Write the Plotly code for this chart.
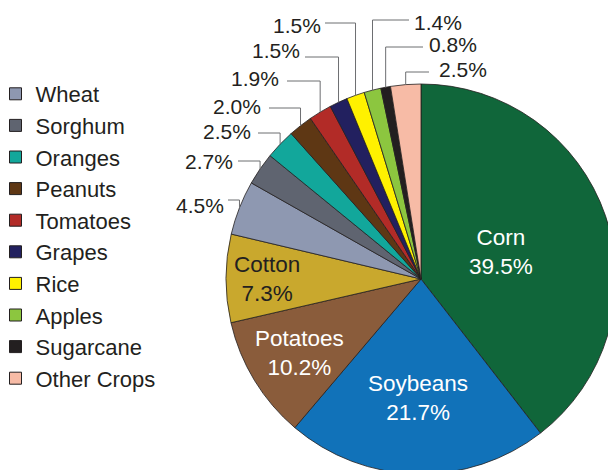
import math
import plotly.graph_objects as go

# ---- data ----
crops = ["Corn", "Soybeans", "Potatoes", "Cotton", "Wheat", "Sorghum", "Oranges",
         "Peanuts", "Tomatoes", "Grapes", "Rice", "Apples", "Sugarcane", "Other Crops"]
shares = [39.5, 21.7, 10.2, 7.3, 4.5, 2.7, 2.5, 2.0, 1.9, 1.5, 1.5, 1.4, 0.8, 2.5]
colors = ["#10663a", "#1172b9", "#8a5c3b", "#c9a82d", "#8e98b1", "#5f6470", "#12a79b",
          "#5e3714", "#b22b27", "#22205f", "#fff100", "#8cc63f", "#231f20", "#f7bba6"]
legend_crops = ["Wheat", "Sorghum", "Oranges", "Peanuts", "Tomatoes", "Grapes", "Rice",
                "Apples", "Sugarcane", "Other Crops"]

# ---- layout helpers (screen pixels) ----
# The figure is a little larger than the 608x470 window so that the pie is
# cropped at the right and bottom edges, as in the reference.
W, H = 616, 476
cx, cy, R = 421, 279, 195
FONT = "Liberation Sans, Arial, sans-serif"
INK = "#231f20"


def px(x):
    return x / W


def py(y):
    return 1 - y / H


total = sum(shares)
mid_angle = {}
acc = 0.0
for c, s in zip(crops, shares):
    mid_angle[c] = (acc + s / 2) / total * 2 * math.pi
    acc += s

fig = go.Figure()
fig.add_trace(go.Pie(
    labels=crops, values=shares, sort=False, direction="clockwise", rotation=0,
    marker=dict(colors=colors, line=dict(color=INK, width=0.8)),
    textinfo="none", hoverinfo="label+percent", showlegend=False,
    domain=dict(x=[px(cx - R), min(1.0, px(cx + R))], y=[max(0.0, py(cy + R)), py(cy - R)]),
))

# legend entries (dummy traces)
for c in legend_crops:
    fig.add_trace(go.Scatter(
        x=[None], y=[None], mode="markers", name=c,
        marker=dict(symbol="square", size=12, color=colors[crops.index(c)],
                    line=dict(color=INK, width=1)),
    ))

annotations = []
shapes = []

# inside labels
inside = {"Corn": (0.435, "white"), "Soybeans": (0.61, "white"),
          "Potatoes": (0.73, "white"), "Cotton": (0.79, INK)}
for c, (frac, col) in inside.items():
    a = mid_angle[c]
    x = cx + frac * R * math.sin(a)
    y = cy - frac * R * math.cos(a)
    annotations.append(dict(
        x=px(x), y=py(y), xref="paper", yref="paper", showarrow=False,
        xanchor="center", yanchor="middle",
        text=f"{c}<br>{shares[crops.index(c)]:.1f}%",
        font=dict(family=FONT, size=22.5, color=col), align="center"))

# leader labels: (line level y, line end x, text x, text centre y, side)
leaders = {
    "Wheat": (200, 228, 226, 204.5, "left"),
    "Sorghum": (161, 238, 235, 160.5, "left"),
    "Oranges": (133, 258, 253, 130, "left"),
    "Peanuts": (108, 269, 263, 105, "left"),
    "Tomatoes": (81, 287, 281, 77.5, "left"),
    "Grapes": (57, 305, 302, 50, "left"),
    "Rice": (23, 325, 323, 24.5, "left"),
    "Apples": (20, 409, 412, 21.5, "right"),
    "Sugarcane": (47, 423, 427, 43, "right"),
    "Other Crops": (72, 429, 437, 68.5, "right"),
}
LINE = dict(color="#6d6e71", width=1)
for c, (ly, hx, tx, ty, side) in leaders.items():
    a = mid_angle[c]
    vx = cx + R * math.sin(a)
    vy = cy - R * math.cos(a)
    shapes.append(dict(type="line", xref="paper", yref="paper",
                       x0=px(hx), y0=py(ly), x1=px(vx), y1=py(ly), line=LINE))
    shapes.append(dict(type="line", xref="paper", yref="paper",
                       x0=px(vx), y0=py(ly), x1=px(vx), y1=py(vy), line=LINE))
    annotations.append(dict(
        x=px(tx), y=py(ty + 1), xref="paper", yref="paper", showarrow=False,
        xanchor="right" if side == "left" else "left", yanchor="middle",
        text=f"{shares[crops.index(c)]:.1f}%",
        font=dict(family=FONT, size=21, color=INK)))

fig.update_layout(
    width=W, height=H, margin=dict(l=0, r=0, t=0, b=0, autoexpand=False),
    paper_bgcolor="white", plot_bgcolor="white",
    xaxis=dict(visible=False), yaxis=dict(visible=False),
    font=dict(family=FONT, color=INK),
    legend=dict(x=-4.5 / W, y=py(73), xanchor="left", yanchor="top",
                font=dict(family=FONT, size=22, color=INK),
                bgcolor="rgba(0,0,0,0)", itemclick=False),
    annotations=annotations, shapes=shapes,
)

fig.write_html(
    "out.html",
    config={"displayModeBar": False},
    post_script=("document.body.style.margin='0';"
                 "document.documentElement.style.overflow='hidden';"
                 "document.body.style.overflow='hidden';"),
)
